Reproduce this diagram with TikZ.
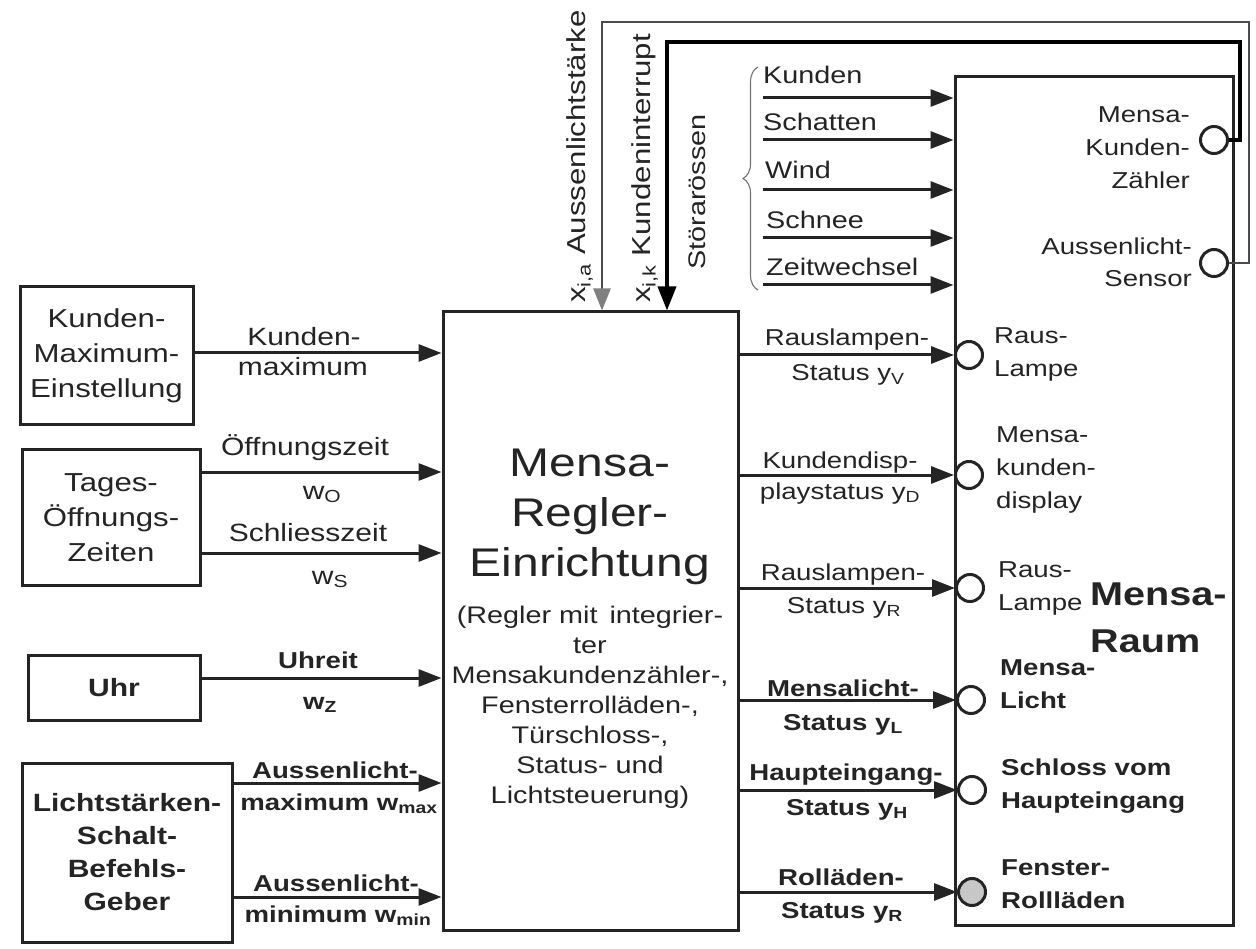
\documentclass[tikz,border=0pt]{standalone}
\usepackage{fontspec}
\setmainfont{Liberation Sans}[FakeStretch=1.2]
\usetikzlibrary{arrows.meta,decorations.pathreplacing,calc}
\definecolor{ink}{HTML}{242424}
\begin{document}
\begin{tikzpicture}[x=1pt,y=-1pt,
  every node/.style={text=ink},
  box/.style={draw=ink,line width=3pt,align=center,inner sep=0pt,font=\fontsize{26}{35}\selectfont},
  bbox/.style={box,font=\bfseries\fontsize{25}{33}\selectfont},
  lbl/.style={font=\fontsize{23}{33}\selectfont,inner sep=0pt,anchor=base},
  blbl/.style={lbl,font=\bfseries\fontsize{23}{33}\selectfont},
  inl/.style={font=\fontsize{25}{33}\selectfont,inner sep=0pt,anchor=base},
  binl/.style={inl,font=\bfseries\fontsize{23}{33}\selectfont},
  plbl/.style={font=\fontsize{23}{33}\selectfont,inner sep=0pt,anchor=west,align=left},
  bplbl/.style={plbl,font=\bfseries\fontsize{23}{33}\selectfont},
  arr/.style={draw=ink,line width=3pt,-{Triangle[length=23pt,width=17pt]}},
  port/.style={circle,draw=ink,line width=3pt,minimum size=27pt,inner sep=0pt,fill=white},
  fbK/.style={draw=black,line width=3.6pt,-{Triangle[length=24pt,width=18pt]}},
  fbA/.style={draw=black!70,line width=2.6pt,-{Triangle[length=22pt,width=17pt,color=black!50]}},
  vlbl/.style={font=\fontsize{26}{30}\selectfont,inner sep=0pt,rotate=90,anchor=west}]
\useasboundingbox[fill=white] (0,0) rectangle (1256,949);

% ---------- main blocks
\node[box,minimum width=173,minimum height=138] (kmax) at (106.5,356) {Kunden-\\Maximum-\\Einstellung};
\node[box,minimum width=178,minimum height=135] (tage) at (111,517.5) {Tages-\\Öffnungs-\\Zeiten};
\node[bbox,minimum width=172,minimum height=65] (uhr) at (114,687.5) {Uhr};
\node[bbox,minimum width=210,minimum height=179] (licht) at (127,852.5) {Lichtstärken-\\Schalt-\\Befehls-\\Geber};
\node[draw=ink,line width=3pt,minimum width=295,minimum height=618,inner sep=0pt] (ctrl) at (590.5,621) {};
\node[draw=ink,line width=3pt,minimum width=278,minimum height=848,inner sep=0pt] (raum) at (1094,501) {};

% ---------- controller text
\node[align=center,inner sep=0pt,font=\fontsize{40}{50}\selectfont] (ctitle) at (590,517) {Mensa-\\Regler-\\Einrichtung};
\node[align=center,inner sep=0pt,font=\fontsize{24}{30}\selectfont] (cdesc) at (590,707) {(Regler mit\, integrier-\\ter\\Mensakundenzähler-,\\Fensterrolläden-,\\Türschloss-,\\Status- und\\Lichtsteuerung)};

% ---------- room text
\node[align=left,inner sep=0pt,anchor=west,font=\bfseries\fontsize{33}{47}\selectfont] (rtitle) at (1090,618) {Mensa-\\Raum};
\node[align=right,inner sep=0pt,anchor=east,font=\fontsize{23}{33}\selectfont] (kzt) at (1190,148) {Mensa-\\Kunden-\\Zähler};
\node[align=right,inner sep=0pt,anchor=east,font=\fontsize{23}{32}\selectfont] (alt) at (1192,262) {Aussenlicht-\\Sensor};

% ---------- ports
\node[port] (p7) at (1214,140) {};
\node[port] (p8) at (1214,263) {};
\node[port] (p1) at (969,355) {};
\node[port] (p2) at (969,475) {};
\node[port] (p3) at (970,588) {};
\node[port] (p4) at (971,700) {};
\node[port] (p5) at (972,790) {};
\node[port,fill=black!22] (p6) at (972,892) {};

\node[plbl] (t1) at (994,354) {Raus-\\Lampe};
\node[plbl] (t2) at (996,470) {Mensa-\\kunden-\\display};
\node[plbl] (t3) at (998,588) {Raus-\\Lampe};
\node[bplbl] (t4) at (1000,684) {Mensa-\\Licht};
\node[bplbl] (t5) at (1001,786) {Schloss vom\\Haupteingang};
\node[bplbl] (t6) at (1001,884) {Fenster-\\Rollläden};

% ---------- input arrows
\coordinate (iK) at (0,353);
\coordinate (iO) at (0,472);
\coordinate (iS) at (0,553);
\coordinate (iU) at (0,678);
\coordinate (iMax) at (0,783);
\coordinate (iMin) at (0,897);
\draw[arr] (kmax.east |- iK) -- (ctrl.west |- iK);
\draw[arr] (tage.east |- iO) -- (ctrl.west |- iO);
\draw[arr] (tage.east |- iS) -- (ctrl.west |- iS);
\draw[arr] (uhr.east |- iU) -- (ctrl.west |- iU);
\draw[arr] (licht.east |- iMax) -- (ctrl.west |- iMax);
\draw[arr] (licht.east |- iMin) -- (ctrl.west |- iMin);

\node[inl] (lK1) at (304,346) {Kunden-};
\node[inl] (lK2) at (303,376) {maximum};
\node[inl] (lO1) at (305,456) {Öffnungszeit};
\node[inl] (lO2) at (322,499) {w\textsubscript{O}};
\node[inl] (lS1) at (308,541) {Schliesszeit};
\node[inl] (lS2) at (330,584) {w\textsubscript{S}};
\node[binl] (lU1) at (318,668) {Uhreit};
\node[binl] (lU2) at (320,709) {w\textsubscript{Z}};
\node[binl] (lM1) at (335,778) {Aussenlicht-};
\node[binl] (lM2) at (339,810) {maximum w\textsubscript{max}};
\node[binl] (lN1) at (336,891) {Aussenlicht-};
\node[binl] (lN2) at (338,922) {minimum w\textsubscript{min}};

% ---------- output arrows
\draw[arr] (ctrl.east |- p1) -- (p1.west);
\draw[arr] (ctrl.east |- p2) -- (p2.west);
\draw[arr] (ctrl.east |- p3) -- (p3.west);
\draw[arr] (ctrl.east |- p4) -- (p4.west);
\draw[arr] (ctrl.east |- p5) -- (p5.west);
\draw[arr] (ctrl.east |- p6) -- (p6.west);

\node[lbl] (o1a) at (847,346) {Rauslampen-};
\node[lbl] (o1b) at (848,381) {Status y\textsubscript{V}};
\node[lbl] (o2a) at (840,468) {Kundendisp-};
\node[lbl] (o2b) at (840,499) {playstatus y\textsubscript{D}};
\node[lbl] (o3a) at (843,580) {Rauslampen-};
\node[lbl] (o3b) at (844,613) {Status y\textsubscript{R}};
\node[blbl] (o4a) at (843,696) {Mensalicht-};
\node[blbl] (o4b) at (843,730) {Status y\textsubscript{L}};
\node[blbl] (o5a) at (846,780) {Haupteingang-};
\node[blbl] (o5b) at (847,815) {Status y\textsubscript{H}};
\node[blbl] (o6a) at (841,885) {Rolläden-};
\node[blbl] (o6b) at (842,918) {Status y\textsubscript{R}};

% ---------- disturbances
\coordinate (d1) at (763,98);
\coordinate (d2) at (763,140);
\coordinate (d3) at (763,190);
\coordinate (d4) at (763,238);
\coordinate (d5) at (763,285);
\draw[arr] (d1) -- (raum.west |- d1);
\draw[arr] (d2) -- (raum.west |- d2);
\draw[arr] (d3) -- (raum.west |- d3);
\draw[arr] (d4) -- (raum.west |- d4);
\draw[arr] (d5) -- (raum.west |- d5);
\node[font=\fontsize{24}{30}\selectfont,inner sep=0pt,anchor=west] (s1) at (763,75) {Kunden};
\node[font=\fontsize{24}{30}\selectfont,inner sep=0pt,anchor=west] (s2) at (763,122) {Schatten};
\node[font=\fontsize{24}{30}\selectfont,inner sep=0pt,anchor=west] (s3) at (765,170) {Wind};
\node[font=\fontsize{24}{30}\selectfont,inner sep=0pt,anchor=west] (s4) at (766,220) {Schnee};
\node[font=\fontsize{24}{30}\selectfont,inner sep=0pt,anchor=west] (s5) at (766,267) {Zeitwechsel};
\draw[draw=black!55,line width=1.1pt,decorate,decoration={brace,amplitude=15pt}] (758,290) -- (758,67);
\node[font=\fontsize{24}{30}\selectfont,inner sep=0pt,rotate=90] (stoer) at (697,192) {Störarössen};

% ---------- feedback lines
\coordinate (kiTop) at (667,42);
\coordinate (alTop) at (602,22);
\draw[fbK] (p7.east) -- ++(11,0) |- (kiTop) -- (ctrl.north -| kiTop);
\draw[fbA] (p8.east) -- ++(20,0) |- (alTop) -- (ctrl.north -| alTop);
\node[vlbl] (xa) at (580,303) {x\textsubscript{i,a}\ Aussenlichtstärke};
\node[vlbl] (xk) at (645,303) {x\textsubscript{i,k}\ Kundeninterrupt};
\end{tikzpicture}
\end{document}
